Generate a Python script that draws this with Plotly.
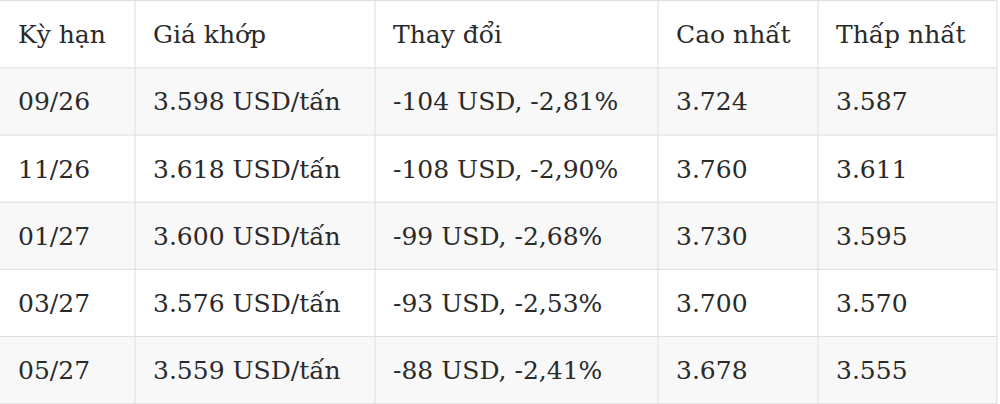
import plotly.graph_objects as go

headers = ["Kỳ hạn", "Giá khớp", "Thay đổi", "Cao nhất", "Thấp nhất"]
ky_han = ["09/26", "11/26", "01/27", "03/27", "05/27"]
gia_khop = [3598, 3618, 3600, 3576, 3559]
thay_doi = [-104, -108, -99, -93, -88]
thay_doi_pct = [-2.81, -2.90, -2.68, -2.53, -2.41]
cao_nhat = [3724, 3760, 3730, 3700, 3678]
thap_nhat = [3587, 3611, 3595, 3570, 3555]


def vn_num(v):
    # 3598 -> 3.598
    return f"{v:,}".replace(",", ".")


col_gia = [vn_num(v) + " USD/tấn" for v in gia_khop]
col_doi = [f"{d} USD, {p:.2f}%".replace(".", ",") for d, p in zip(thay_doi, thay_doi_pct)]
col_cao = [vn_num(v) for v in cao_nhat]
col_thap = [vn_num(v) for v in thap_nhat]
columns = [ky_han, col_gia, col_doi, col_cao, col_thap]

# layout of the grid (pixels across, rows down)
col_edges = [0, 135, 375, 658, 818, 997]
pad = 18
n_rows = len(ky_han) + 1
ncol = len(headers)

fig = go.Figure()

# zebra rows: header white, then grey / white
zebra = [[0] * ncol] + [[1 if i % 2 == 0 else 0] * ncol for i in range(len(ky_han))]
fig.add_trace(go.Heatmap(
    z=zebra, x=col_edges, y=list(range(n_rows + 1)),
    colorscale=[[0, "#ffffff"], [1, "#f8f8f8"]],
    showscale=False, hoverinfo="skip", zmin=0, zmax=1,
))

# cell borders
lx, ly = [], []
for e in col_edges[1:]:
    lx += [e, e, None]
    ly += [0, n_rows, None]
for r in range(n_rows + 1):
    lx += [0, col_edges[-1], None]
    ly += [r, r, None]
fig.add_trace(go.Scatter(x=lx, y=ly, mode="lines", hoverinfo="skip",
                         line=dict(color="#dddddd", width=1)))

# text, nudged a touch below the row middle
tx, ty, tt = [], [], []
for c in range(ncol):
    rows = [headers[c]] + columns[c]
    for r, t in enumerate(rows):
        tx.append(col_edges[c] + pad)
        ty.append(r + 0.54)
        tt.append(t)
fig.add_trace(go.Scatter(x=tx, y=ty, text=tt, mode="text", textposition="middle right",
                         hoverinfo="skip",
                         textfont=dict(family="DejaVu Serif", size=25, color="#2a2a2a")))

fig.update_xaxes(range=[0, 1000], visible=False, fixedrange=True)
fig.update_yaxes(range=[n_rows + 0.005, -0.01], visible=False, fixedrange=True)
fig.update_layout(width=1000, height=404, margin=dict(l=0, r=0, t=0, b=0),
                  paper_bgcolor="white", plot_bgcolor="white", showlegend=False)
fig.write_html("out.html", config={"displayModeBar": False},
               post_script="document.body.style.margin='0';")
